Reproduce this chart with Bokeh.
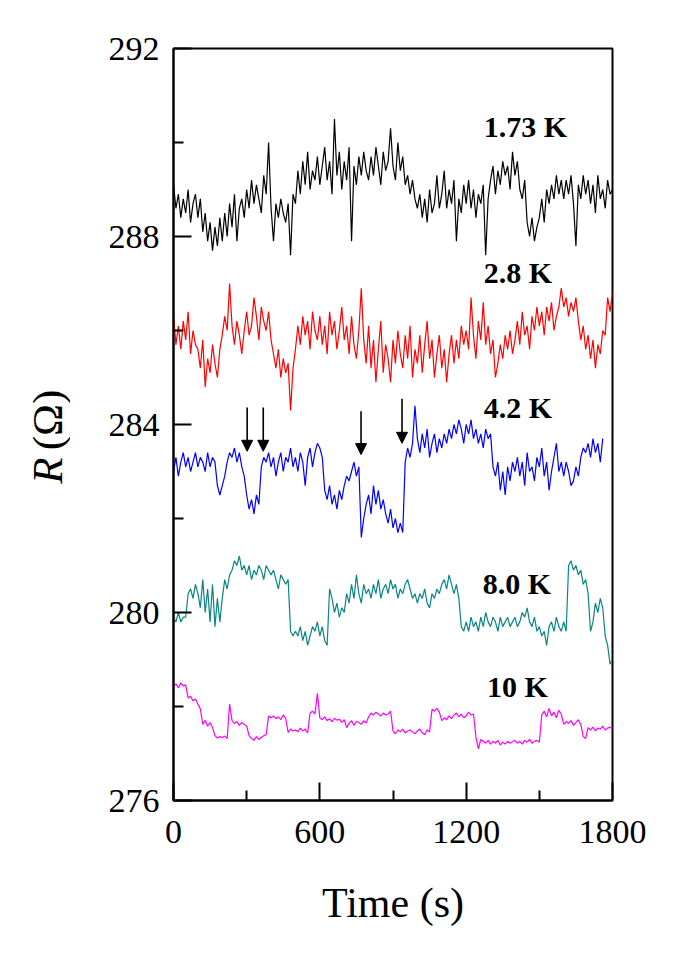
from bokeh.plotting import figure
from bokeh.layouts import row
from bokeh.models import Range1d, FixedTicker, Arrow, NormalHead, ColumnDataSource
from bokeh.core.properties import value
from bokeh.embed import file_html
from bokeh.resources import INLINE
import math

# ---------------- data ----------------
time_s = list(range(0, 1801, 10))

r_173K = [289.1, 288.6, 288.9, 288.4, 288.8, 288.5, 289.0, 288.3, 288.7, 288.9,
          288.4, 288.8, 288.1, 288.5, 287.9, 288.3, 287.7, 288.2, 287.8, 288.4,
          287.9, 288.5, 288.0, 288.7, 288.2, 288.9, 287.9, 288.6, 288.8, 288.4,
          289.0, 288.6, 289.2, 288.7, 289.1, 288.8, 288.5, 289.3, 288.9, 290.0,
          288.6, 287.9, 288.7, 288.4, 288.8, 288.5, 288.3, 288.7, 287.6, 288.9,
          288.7, 289.4, 288.9, 289.6, 289.1, 289.8, 289.0, 289.4, 289.2, 289.7,
          289.1, 289.5, 289.9, 289.2, 289.6, 288.9, 290.5, 289.3, 289.8, 289.0,
          289.6, 289.2, 289.9, 287.9, 289.5, 289.1, 289.7, 289.3, 289.8, 289.4,
          289.2, 289.7, 289.3, 289.9, 289.5, 289.1, 289.8, 289.4, 289.6, 290.3,
          289.5, 289.2, 290.0, 289.4, 289.7, 289.1, 289.3, 288.9, 289.2, 288.8,
          288.6, 288.9, 288.4, 288.8, 288.3, 289.0, 288.5, 288.7, 289.3, 288.6,
          288.9, 289.4, 288.6, 289.0, 288.7, 289.2, 287.9, 288.8, 288.5, 289.1,
          288.7, 289.2, 288.6, 289.0, 288.4, 288.9, 288.7, 289.1, 287.6, 288.8,
          289.2, 289.5, 288.9, 289.4, 289.1, 289.6, 289.3, 289.5, 289.0, 289.8,
          289.3, 289.6, 289.0, 288.8, 289.2, 288.3, 288.0, 288.4, 287.9, 288.2,
          288.4, 288.8, 288.3, 289.0, 288.7, 289.1, 288.8, 289.3, 288.9, 289.2,
          288.8, 289.2, 288.9, 289.3, 288.7, 287.8, 289.1, 288.8, 289.3, 288.9,
          289.2, 288.7, 289.1, 288.5, 289.3, 288.8, 289.0, 288.6, 289.2, 288.9, 289.0]

r_28K = [286.3, 285.7, 286.1, 285.6, 286.2, 285.8, 286.4, 285.5, 286.0, 285.7,
         285.6, 285.2, 285.8, 284.8, 285.4, 285.1, 285.7, 285.3, 285.0, 285.6,
         285.9, 286.3, 286.0, 287.0, 286.1, 285.7, 286.2, 285.9, 285.5, 286.0,
         286.4, 285.9, 286.1, 286.7, 286.3, 285.8, 286.5, 286.2, 286.0, 286.4,
         285.8, 285.5, 285.2, 285.6, 285.0, 285.4, 285.1, 285.3, 284.3, 285.2,
         285.6, 286.1, 285.7, 286.3, 285.9, 286.2, 285.6, 286.4, 286.0, 285.8,
         286.3, 285.7, 286.1, 285.5, 286.4, 285.9, 286.2, 285.6, 286.0, 286.5,
         285.8, 286.1, 285.5, 286.3, 285.7, 285.4, 286.0, 286.9, 285.8, 285.3,
         286.1, 285.2, 285.8, 284.9, 285.6, 286.2, 285.1, 285.7, 285.4, 284.9,
         285.8, 285.3, 286.0, 285.5, 285.2, 285.9, 285.4, 286.1, 285.0, 285.6,
         285.3, 285.9, 285.1, 285.7, 286.2, 285.4, 285.8, 285.0, 285.5, 285.9,
         285.2, 285.6, 284.9, 285.5, 285.9, 285.3, 285.8, 285.4, 286.1, 285.7,
         286.0, 285.6, 286.7, 285.9, 285.4, 286.2, 285.8, 286.6, 285.7, 286.1,
         285.5, 285.8, 285.0, 285.3, 285.7, 285.4, 285.9, 285.6, 286.0, 285.5,
         285.8, 286.2, 285.7, 286.4, 285.9, 286.1, 285.6, 286.3, 286.0, 286.5,
         286.1, 286.4, 285.9, 286.5, 286.2, 286.6, 286.0, 286.3, 286.5, 286.9,
         286.5, 286.7, 286.3, 286.6, 286.4, 286.7, 286.2, 285.8, 286.1, 285.6,
         285.9, 285.4, 285.8, 285.2, 285.7, 285.5, 286.0, 285.9, 286.7, 286.4, 286.8]

r_42K = [283.0, 283.3, 282.9, 283.2, 283.4, 283.1, 283.3, 283.0, 283.2, 283.4,
         283.1, 283.3, 283.2, 283.0, 283.4, 283.1, 283.3, 283.2, 282.7, 282.5,
         282.7, 282.9, 283.2, 283.4, 283.3, 283.5, 283.2, 283.4, 283.1, 282.9,
         282.5, 282.2, 282.4, 282.1, 282.5, 282.3, 283.1, 283.3, 283.2, 283.4,
         283.1, 283.3, 282.9, 283.2, 283.4, 283.0, 283.3, 283.2, 283.5, 283.1,
         283.3, 283.0, 283.4, 283.2, 282.7, 283.3, 283.5, 283.1, 283.4, 283.6,
         283.5, 283.3, 282.6, 282.4, 282.7, 282.3, 282.5, 282.2, 282.6, 282.4,
         282.7, 282.9, 282.8, 283.0, 283.2, 282.9, 283.1, 281.6, 282.0, 282.3,
         282.5, 282.1, 282.7, 282.3, 282.6, 282.2, 282.4, 282.1, 281.9, 282.2,
         281.8, 282.0, 281.7, 281.9, 281.7, 283.2, 283.5, 283.3, 283.6, 284.4,
         283.7, 283.4, 283.8, 283.5, 283.9, 283.3, 283.6, 283.8, 283.4, 283.7,
         283.5, 283.8, 283.6, 283.9, 283.7, 284.0, 283.8, 284.1, 283.9, 283.6,
         284.0, 283.8, 284.1, 283.7, 283.9, 283.6, 283.8, 283.5, 283.9, 283.7,
         283.8, 283.1, 282.9, 283.2, 282.6, 283.0, 282.5, 283.1, 282.8, 283.2,
         283.0, 283.3, 282.9, 283.2, 282.7, 283.4, 283.0, 283.1, 282.8, 283.3,
         283.1, 283.5, 282.9, 283.2, 282.6, 283.0, 283.3, 283.6, 283.0, 283.2,
         282.9, 283.2, 283.0, 282.7, 282.8, 283.1, 282.9, 283.3, 283.5, 283.4,
         283.6, 283.3, 283.7, 283.4, 283.6, 283.2, 283.7]

r_80K = [279.9, 279.8, 280.0, 279.8, 279.9, 279.9, 280.4, 280.5, 280.3, 280.6,
         280.4, 280.1, 280.7, 280.0, 280.5, 279.8, 280.6, 279.7, 280.3, 279.8,
         280.3, 280.7, 280.5, 280.8, 280.9, 281.1, 281.0, 281.2, 280.9, 281.0,
         280.8, 281.0, 280.7, 280.9, 280.8, 281.0, 280.9, 280.7, 281.0, 280.9,
         280.8, 280.9, 280.7, 280.5, 280.8, 280.7, 280.6, 280.7, 279.6, 279.5,
         279.6, 279.5, 279.7, 279.4, 279.6, 279.3, 279.5, 279.7, 279.6, 279.8,
         279.5, 279.7, 279.4, 279.3, 280.5, 280.3, 280.0, 280.2, 279.9, 280.1,
         280.0, 280.4, 280.2, 280.6, 280.3, 280.8, 280.4, 280.2, 280.6, 280.4,
         280.5, 280.3, 280.6, 280.4, 280.7, 280.3, 280.5, 280.6, 280.4, 280.7,
         280.5, 280.6, 280.3, 280.5, 280.4, 280.6, 280.7, 280.5, 280.3, 280.4,
         280.2, 280.4, 280.3, 280.5, 280.2, 280.1, 280.4, 280.3, 280.5, 280.4,
         280.6, 280.7, 280.5, 280.8, 280.6, 280.4, 280.6, 280.3, 279.7, 279.6,
         279.8, 279.6, 279.9, 279.7, 279.8, 279.6, 279.9, 279.7, 280.0, 279.8,
         279.7, 279.9, 279.8, 279.6, 279.9, 279.7, 279.8, 279.9, 279.7, 279.8,
         279.9, 279.7, 279.8, 280.0, 279.9, 280.1, 279.8, 279.7, 279.9, 279.6,
         279.7, 279.5, 279.6, 279.3, 279.7, 279.8, 279.6, 279.9, 279.7, 279.6,
         279.8, 279.6, 281.0, 281.1, 280.9, 281.0, 280.8, 280.9, 280.6, 280.7,
         280.4, 279.6, 279.8, 280.2, 280.0, 280.3, 280.1, 279.5, 279.3, 278.9, 279.0]

r_10K = [278.42, 278.48, 278.40, 278.50, 278.44, 278.46, 278.18, 278.22, 278.12, 278.16,
         278.05, 277.95, 277.62, 277.70, 277.58, 277.66, 277.55, 277.38, 277.33, 277.36,
         277.34, 277.37, 277.32, 278.05, 277.70, 277.64, 277.68, 277.60, 277.66, 277.62,
         277.58, 277.38, 277.32, 277.28, 277.36, 277.30, 277.34, 277.38, 277.40, 277.80,
         277.76, 277.80, 277.74, 277.78, 277.72, 277.82, 277.75, 277.45, 277.52, 277.48,
         277.50, 277.46, 277.54, 277.48, 277.52, 277.44, 277.86, 277.90, 277.84, 278.28,
         277.76, 277.72, 277.78, 277.70, 277.74, 277.68, 277.75, 277.71, 277.73, 277.66,
         277.72, 277.55, 277.64, 277.70, 277.60, 277.68, 277.66, 277.62, 277.70, 277.65,
         277.78, 277.86, 277.82, 277.88, 277.84, 277.80, 277.86, 277.82, 277.84, 277.90,
         277.48, 277.42, 277.50, 277.46, 277.52, 277.44, 277.48, 277.50, 277.46, 277.42,
         277.48, 277.52, 277.44, 277.40, 277.50, 277.46, 277.94, 277.90, 277.96, 277.88,
         277.70, 277.76, 277.72, 277.80, 277.74, 277.82, 277.86, 277.78, 277.84, 277.76,
         277.80, 277.88, 277.82, 277.84, 277.35, 277.10, 277.30, 277.26, 277.22, 277.28,
         277.20, 277.26, 277.22, 277.28, 277.18, 277.24, 277.20, 277.26, 277.22, 277.25,
         277.28, 277.22, 277.26, 277.20, 277.28, 277.24, 277.30, 277.22, 277.26, 277.28,
         277.24, 277.82, 277.90, 277.78, 277.96, 277.80, 277.88, 277.76, 277.92, 277.84,
         277.62, 277.68, 277.64, 277.70, 277.60, 277.66, 277.72, 277.62, 277.36, 277.32,
         277.55, 277.50, 277.56, 277.48, 277.54, 277.52, 277.58, 277.50, 277.54, 277.56, 277.52]

series_values = [r_173K, r_28K, r_42K, r_80K, r_10K]
series_colors = ["#000000", "#ff0000", "#0000ff", "#0a8585", "#ff00ff"]

label_text = ["1.73 K", "2.8 K", "4.2 K", "8.0 K", "10 K"]
label_t = [1272, 1272, 1272, 1268, 1285]
label_r = [290.34, 287.23, 284.36, 280.62, 278.43]

arrow_t = [302, 368, 769, 937]
arrow_top = [284.36, 284.36, 284.28, 284.55]
arrow_tip = [283.43, 283.43, 283.36, 283.60]

x_ticks = [0, 600, 1200, 1800]
y_ticks = [276, 280, 284, 288, 292]

y_title_parts = ["R", "(Ω)"]
y_title_style = ["italic", "normal"]
y_title_align = ["right", "left"]
y_title_r = [283.30, 283.45]

# ---------------- figures ----------------
SERIF = "Liberation Serif"
TOP, BOTTOM = 48, 136

# narrow strip holding the y-axis title (italic R, upright (Ω))
lab = figure(frame_width=70, frame_height=752,
             min_border_left=0, min_border_right=0,
             min_border_top=TOP, min_border_bottom=BOTTOM,
             x_range=Range1d(0, 70), y_range=Range1d(276, 292),
             x_axis_location=None, y_axis_location=None,
             output_backend="svg", toolbar_location=None)
lab.grid.visible = False
lab.outline_line_color = None
for txt, sty, al, yr in zip(y_title_parts, y_title_style, y_title_align, y_title_r):
    lab.text(x=[47], y=[yr], text=[txt], angle=math.pi / 2,
             text_font=value(SERIF), text_font_style=sty,
             text_font_size="43px", text_align=al, text_baseline="middle",
             text_color="black")

p = figure(frame_width=439, frame_height=752,
           min_border_left=103, min_border_right=50,
           min_border_top=TOP, min_border_bottom=BOTTOM,
           x_range=Range1d(0, 1800), y_range=Range1d(276, 292),
           output_backend="svg", toolbar_location=None,
           background_fill_color="white", border_fill_color="white")

p.grid.visible = False
p.outline_line_color = "black"
p.outline_line_width = 2

for vals, col in zip(series_values, series_colors):
    p.line(time_s[:len(vals)], vals, line_color=col, line_width=1.2)

src = ColumnDataSource(dict(x=label_t, y=label_r, text=label_text))
p.text(x="x", y="y", text="text", source=src,
       text_font=value(SERIF), text_font_style="bold",
       text_font_size="30px", text_align="left", text_baseline="middle",
       text_color="black")

for t, y0, y1 in zip(arrow_t, arrow_top, arrow_tip):
    p.add_layout(Arrow(x_start=t, y_start=y0, x_end=t, y_end=y1,
                       line_color="black", line_width=1.6,
                       end=NormalHead(size=11, fill_color="black",
                                      line_color="black", line_width=1)))

for ax in (p.xaxis[0], p.yaxis[0]):
    ax.axis_line_width = 2
    ax.major_tick_line_width = 2
    ax.minor_tick_line_width = 2
    ax.major_tick_in = 18
    ax.major_tick_out = 0
    ax.minor_tick_in = 10
    ax.minor_tick_out = 0
    ax.major_label_text_font = SERIF
    ax.major_label_text_font_size = "34px"
    ax.major_label_text_color = "black"

p.xaxis[0].ticker = FixedTicker(ticks=x_ticks, minor_ticks=[300, 900, 1500])
p.yaxis[0].ticker = FixedTicker(ticks=y_ticks, minor_ticks=[278, 282, 286, 290])
p.xaxis[0].major_label_standoff = 20
p.yaxis[0].major_label_standoff = 14

p.xaxis[0].axis_label = "Time (s)"
p.xaxis[0].axis_label_text_font = SERIF
p.xaxis[0].axis_label_text_font_style = "normal"
p.xaxis[0].axis_label_text_font_size = "42px"
p.xaxis[0].axis_label_text_color = "black"
p.xaxis[0].axis_label_standoff = 34

layout = row(lab, p)
open("out.html", "w").write(file_html(layout, INLINE))
